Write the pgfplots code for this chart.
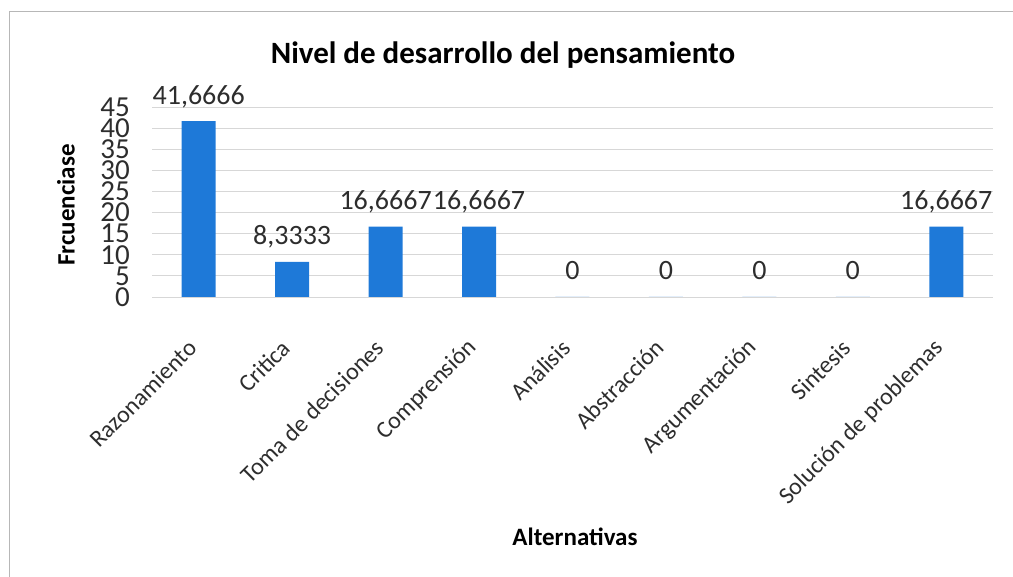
\documentclass[border=0pt]{standalone}
\usepackage{pgfplots}
\pgfplotsset{compat=1.18}
\usepackage{fontspec}
\setmainfont{Carlito}
\definecolor{barblue}{RGB}{30,121,216}
\definecolor{txt}{RGB}{45,45,45}
\definecolor{gridc}{RGB}{215,215,215}
\begin{document}
\begin{tikzpicture}[x=1pt,y=1pt]
\useasboundingbox (0,0) rectangle (1013,577);
\draw[color=gridc!85!black, line width=1pt] (9,0) -- (9,565) -- (1013,565);
\begin{axis}[
  at={(152pt,280pt)}, anchor=south west,
  scale only axis, width=841pt, height=190pt,
  xmin=-0.5, xmax=8.5, ymin=0, ymax=45,
  ybar, bar width=34pt,
  axis line style={draw=none},
  axis x line*=bottom,
  axis y line*=left,
  ytick={0,5,...,45},
  xtick={0,...,8},
  xticklabels={Razonamiento,Critica,Toma de decisiones,Comprensión,Análisis,Abstracción,Argumentación,Sintesis,Solución de problemas},
  major tick length=0pt,
  ymajorgrids, grid style={gridc, line width=0.8pt},
  /pgf/number format/assume math mode=true,
  yticklabel style={font=\fontsize{29}{29}\selectfont, text=txt, inner sep=0pt, xshift=-22pt, anchor=east},
  xticklabel style={font=\fontsize{24}{24}\selectfont, text=txt, inner sep=0pt, xshift=-6pt, yshift=-47pt, rotate=45, anchor=east},
  nodes near coords,
  point meta=explicit symbolic,
  every node near coord/.append style={font=\fontsize{28}{28}\selectfont, text=txt, anchor=base, inner sep=0pt, yshift=17pt},
  clip=false,
]
\addplot[fill=barblue, draw=none] table[meta=lab] {
x y lab
0 41.6666 41,6666
1 8.3333 8,3333
2 16.6667 16,6667
3 16.6667 16,6667
4 0 0
5 0 0
6 0 0
7 0 0
8 16.6667 16,6667
};
\draw[gridc, line width=0.8pt] (axis cs:-0.5,0) -- (axis cs:8.5,0);
\end{axis}
\node[text=black, font=\fontsize{31}{31}\selectfont\bfseries] at (503,522) {Nivel de desarrollo del pensamiento};
\node[text=black, font=\fontsize{25}{25}\selectfont\bfseries] at (575,40) {Alternativas};
\node[text=black, font=\fontsize{25}{25}\selectfont\bfseries, rotate=90] at (66,372) {Frcuenciase};
\end{tikzpicture}
\end{document}
